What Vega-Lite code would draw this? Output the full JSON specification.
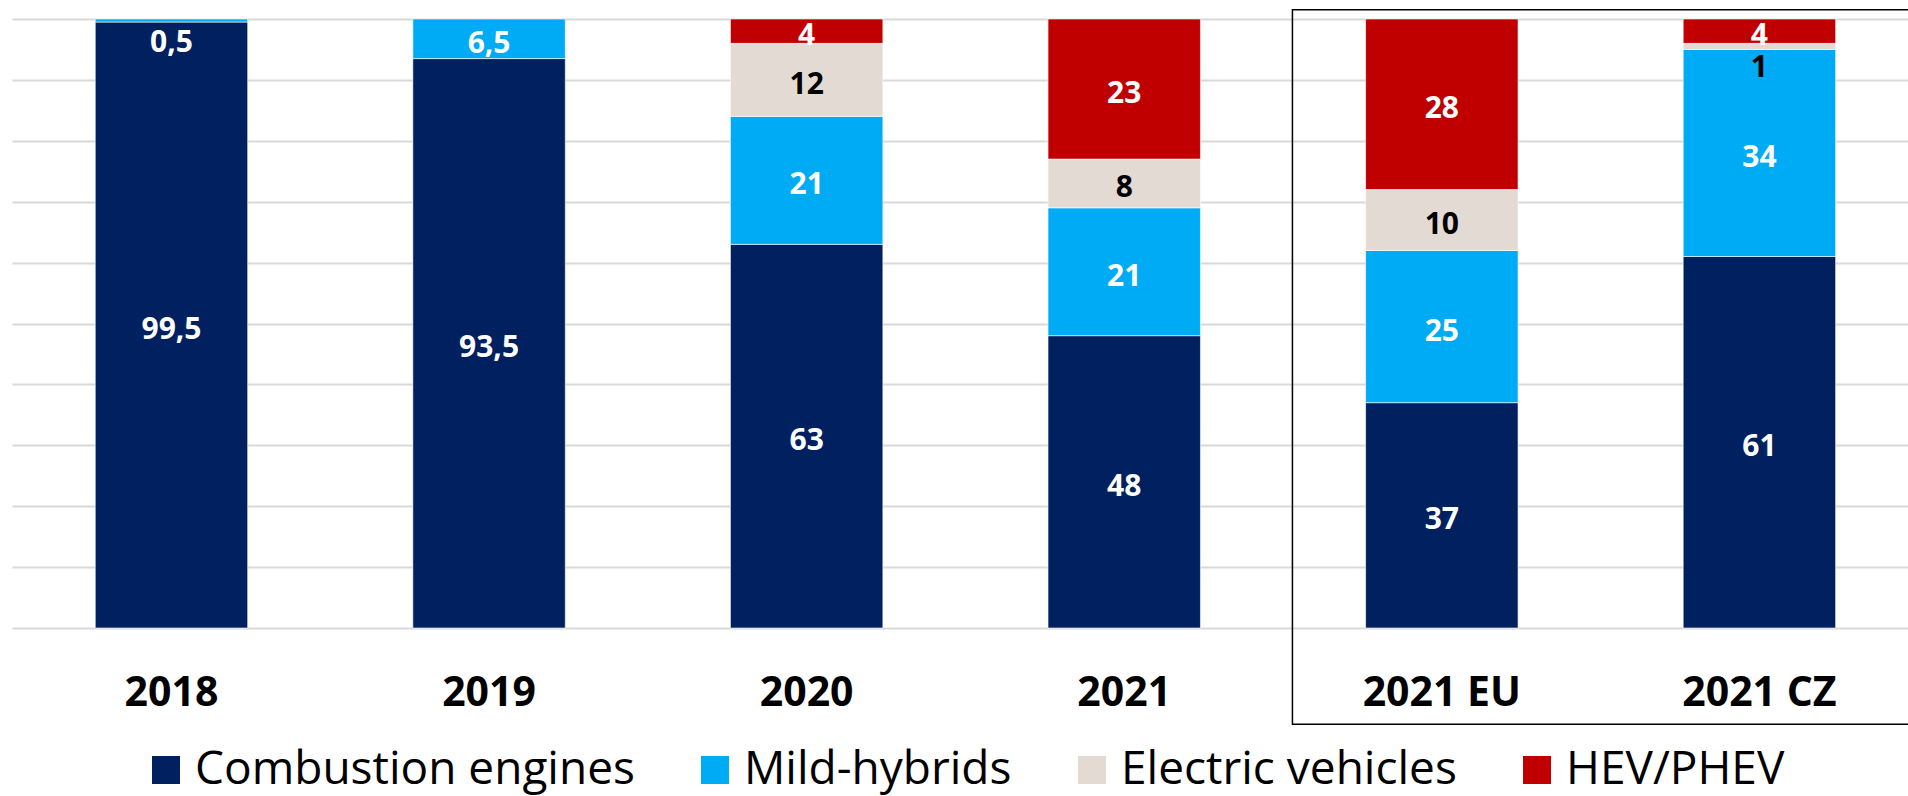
{
  "$schema": "https://vega.github.io/schema/vega-lite/v6.json",
  "width": 1896,
  "height": 609,
  "autosize": {"type": "none"},
  "padding": {"left": 12, "top": 19, "right": 0, "bottom": 168},
  "background": "white",
  "config": {"view": {"stroke": null}, "font": "Open Sans"},
  "data": {
    "values": [
      {"cat": "2018", "series": "Combustion engines", "i": 1, "v": 99.5},
      {"cat": "2018", "series": "Mild-hybrids", "i": 2, "v": 0.5},
      {"cat": "2019", "series": "Combustion engines", "i": 1, "v": 93.5},
      {"cat": "2019", "series": "Mild-hybrids", "i": 2, "v": 6.5},
      {"cat": "2020", "series": "Combustion engines", "i": 1, "v": 63},
      {"cat": "2020", "series": "Mild-hybrids", "i": 2, "v": 21},
      {"cat": "2020", "series": "Electric vehicles", "i": 3, "v": 12},
      {"cat": "2020", "series": "HEV/PHEV", "i": 4, "v": 4},
      {"cat": "2021", "series": "Combustion engines", "i": 1, "v": 48},
      {"cat": "2021", "series": "Mild-hybrids", "i": 2, "v": 21},
      {"cat": "2021", "series": "Electric vehicles", "i": 3, "v": 8},
      {"cat": "2021", "series": "HEV/PHEV", "i": 4, "v": 23},
      {"cat": "2021 EU", "series": "Combustion engines", "i": 1, "v": 37},
      {"cat": "2021 EU", "series": "Mild-hybrids", "i": 2, "v": 25},
      {"cat": "2021 EU", "series": "Electric vehicles", "i": 3, "v": 10},
      {"cat": "2021 EU", "series": "HEV/PHEV", "i": 4, "v": 28},
      {"cat": "2021 CZ", "series": "Combustion engines", "i": 1, "v": 61},
      {"cat": "2021 CZ", "series": "Mild-hybrids", "i": 2, "v": 34},
      {"cat": "2021 CZ", "series": "Electric vehicles", "i": 3, "v": 1},
      {"cat": "2021 CZ", "series": "HEV/PHEV", "i": 4, "v": 4}
    ]
  },
  "layer": [
    {
      "transform": [
        {"stack": "v", "groupby": ["cat"], "sort": [{"field": "i", "order": "ascending"}], "as": ["y0", "y1"]},
        {"calculate": "(datum.y0 + datum.y1) / 2", "as": "mid"},
        {"calculate": "replace(format(datum.v, '.1~f'), '.', ',')", "as": "txt"}
      ],
      "layer": [
        {
          "mark": {"type": "bar", "stroke": "#ffffff", "strokeWidth": 1, "strokeOpacity": 0.6},
          "encoding": {
            "x": {
              "field": "cat", "type": "nominal",
              "sort": ["2018", "2019", "2020", "2021", "2021 EU", "2021 CZ"],
              "scale": {"paddingInner": 0.52, "paddingOuter": 0.245, "align": 0.535},
              "axis": {"title": null, "labelAngle": 0, "labelFont": "Open Sans", "labelFontWeight": "bold", "labelFontSize": 41, "labelColor": "#000000", "labelPadding": 45, "ticks": false, "domain": false, "grid": false}
            },
            "y": {
              "field": "y0", "type": "quantitative",
              "scale": {"domain": [0, 100]},
              "axis": {"title": null, "labels": false, "ticks": false, "domain": false, "grid": true, "gridColor": "#d9d9d9", "gridWidth": 2, "values": [0, 10, 20, 30, 40, 50, 60, 70, 80, 90, 100]}
            },
            "y2": {"field": "y1"},
            "color": {
              "field": "series", "type": "nominal",
              "scale": {
                "domain": ["Combustion engines", "Mild-hybrids", "Electric vehicles", "HEV/PHEV"],
                "range": ["#002060", "#00ABF5", "#E3DBD3", "#C00000"]
              },
              "legend": {
                "title": null, "orient": "none", "legendX": 131, "legendY": 728,
                "direction": "horizontal", "columns": 4, "padding": 0,
                "symbolType": "square", "symbolSize": 784, "symbolStrokeWidth": 0,
                "labelFont": "Open Sans", "labelFontSize": 46, "labelColor": "#000000",
                "labelOffset": 6, "columnPadding": 57, "labelLimit": 0
              }
            }
          }
        },
        {
          "transform": [{"filter": "datum.v >= 2"}],
          "mark": {"type": "text", "font": "Open Sans", "fontWeight": "bold", "fontSize": 30, "baseline": "middle", "align": "center", "dy": 5},
          "encoding": {
            "x": {"field": "cat", "type": "nominal", "sort": ["2018", "2019", "2020", "2021", "2021 EU", "2021 CZ"]},
            "y": {"field": "mid", "type": "quantitative"},
            "text": {"field": "txt"},
            "color": {"condition": {"test": "datum.series === 'Electric vehicles'", "value": "#000000"}, "value": "#ffffff"}
          }
        },
        {
          "transform": [{"filter": "datum.v < 2"}],
          "mark": {"type": "text", "font": "Open Sans", "fontWeight": "bold", "fontSize": 30, "baseline": "middle", "align": "center", "dy": 22},
          "encoding": {
            "x": {"field": "cat", "type": "nominal", "sort": ["2018", "2019", "2020", "2021", "2021 EU", "2021 CZ"]},
            "y": {"field": "mid", "type": "quantitative"},
            "text": {"field": "txt"},
            "color": {"condition": {"test": "datum.series === 'Electric vehicles'", "value": "#000000"}, "value": "#ffffff"}
          }
        }
      ]
    },
    {
      "data": {"values": [{"box": "2021 comparison"}]},
      "mark": {"type": "rect", "fill": null, "fillOpacity": 0, "stroke": "#000000", "strokeWidth": 1.5, "clip": false},
      "encoding": {
        "x": {"datum": "2021 EU", "bandPosition": -0.48},
        "x2": {"datum": "2021 CZ", "bandPosition": 2},
        "y": {"datum": 101.5},
        "y2": {"datum": -15.8}
      }
    }
  ]
}
